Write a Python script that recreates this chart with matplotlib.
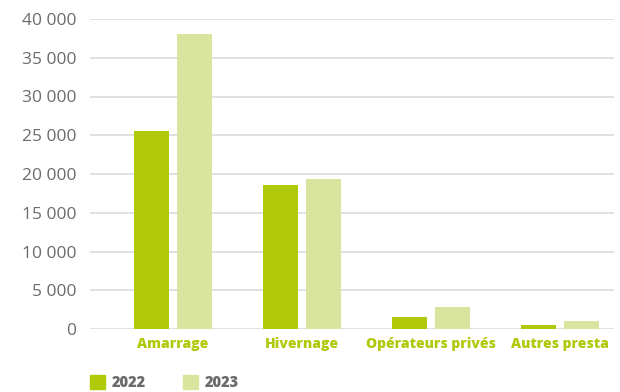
import numpy as np
import matplotlib.pyplot as plt
from matplotlib.patches import Patch

categories = ['Amarrage', 'Hivernage', 'Opérateurs privés', 'Autres presta']
val_2022 = [25550, 18600, 1550, 500]
val_2023 = [38050, 19350, 2850, 1050]
yticks = [0, 5000, 10000, 15000, 20000, 25000, 30000, 35000, 40000]

c22 = '#b0c90a'
c23 = '#d9e59e'
grey = '#6b6b6b'

plt.rcParams['font.family'] = ['Open Sans', 'DejaVu Sans']

fig = plt.figure(figsize=(6.2, 3.92), dpi=100)
ax = fig.add_axes([90 / 620, 63 / 392, 524 / 620, 310 / 392])

x = np.arange(len(categories))
w = 0.271
off = 0.167
ax.bar(x - off, val_2022, w, color=c22, zorder=3)
ax.bar(x + off, val_2023, w, color=c23, zorder=3)

ax.set_xlim(-0.643, 3.419)
ax.set_ylim(0, 40000)
ax.set_yticks(yticks)
ax.set_yticklabels([f'{v:,}'.replace(',', ' ') for v in yticks], color=grey, fontsize=12.5)
ax.yaxis.grid(True, color='#dcdcdc', linewidth=1.2, zorder=0)
ax.tick_params(axis='y', length=0, pad=10)
ax.set_xticks(x)
ax.set_xticklabels(categories, color=c22, fontsize=10, fontweight='heavy')
ax.tick_params(axis='x', length=0, pad=6)
for s in ax.spines.values():
    s.set_visible(False)

handles = [Patch(color=c22, label='2022'), Patch(color=c23, label='2023')]
leg = fig.legend(handles=handles, loc='lower left', bbox_to_anchor=(77 / 620, -12 / 392),
                 ncol=2, frameon=False, handlelength=1.0, handleheight=1.1,
                 handletextpad=0.45, columnspacing=2.6, fontsize=10.5)
for t in leg.get_texts():
    t.set_color(grey)
    t.set_fontweight('heavy')

fig.savefig('out.png', dpi=100)
